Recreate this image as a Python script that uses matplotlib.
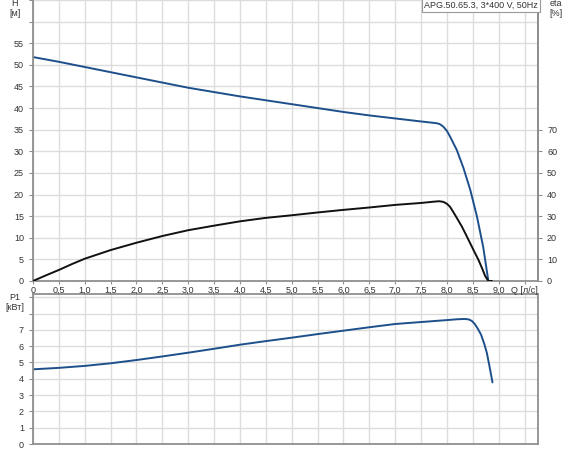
import numpy as np
import matplotlib.pyplot as plt
from matplotlib.ticker import FixedLocator

# Pump curve data
q_h = [0.0, 0.5, 1.0, 1.5, 2.0, 2.5, 3.0, 3.5, 4.0, 4.5, 5.0, 5.5, 6.0, 6.5, 7.0, 7.5,
       7.8, 7.86, 7.93, 8.0, 8.06, 8.19, 8.32, 8.45, 8.58, 8.70, 8.80]
h = [51.8, 50.7, 49.5, 48.3, 47.1, 45.9, 44.7, 43.7, 42.7, 41.8, 40.9, 40.0, 39.1, 38.3,
     37.6, 36.9, 36.5, 36.3, 35.7, 34.7, 33.4, 30.3, 26.1, 21.1, 14.9, 7.9, 0.0]

q_eta = [0.0, 0.25, 0.5, 0.75, 1.0, 1.5, 2.0, 2.5, 3.0, 3.5, 4.0, 4.5, 5.0, 5.5, 6.0, 6.5,
         7.0, 7.5, 7.75, 7.85, 7.93, 8.0, 8.06, 8.12, 8.2, 8.29, 8.37, 8.45, 8.53, 8.61,
         8.68, 8.74, 8.80, 8.87]
eta = [0.0, 2.6, 5.1, 7.8, 10.3, 14.3, 17.7, 20.8, 23.5, 25.6, 27.6, 29.2, 30.4, 31.7,
       32.9, 34.0, 35.2, 36.1, 36.7, 36.9, 36.6, 35.7, 34.3, 32.0, 28.8, 25.1, 21.3, 17.4,
       13.5, 9.7, 5.8, 2.2, 0.0, 0.0]

q_p = [0.0, 0.5, 1.0, 1.5, 2.0, 2.5, 3.0, 3.5, 4.0, 4.5, 5.0, 5.5, 6.0, 6.5, 7.0, 7.5,
       8.0, 8.2, 8.35, 8.42, 8.48, 8.54, 8.6, 8.66, 8.72, 8.77, 8.82, 8.88]
p1 = [4.58, 4.67, 4.79, 4.95, 5.15, 5.37, 5.6, 5.84, 6.09, 6.31, 6.52, 6.74, 6.95, 7.16,
      7.36, 7.48, 7.60, 7.65, 7.67, 7.64, 7.55, 7.35, 7.05, 6.7, 6.15, 5.6, 4.8, 3.78]

x_ticks = np.arange(0, 9.76, 0.5)
x_labels = ['0'] + [f'{v:.1f}'.replace('.', ',') for v in x_ticks[1:-1]] + ['Q [л/с]']
h_ticks = np.arange(0, 66, 5)
h_labels = [str(v) if v <= 55 else '' for v in h_ticks]
eta_ticks = np.arange(0, 71, 10)
p_ticks = np.arange(0, 10, 1)
p_labels = [str(v) if v <= 7 else '' for v in p_ticks]

blue = '#1d4f8b'
grid_c = '#dcdcdc'
spine_c = '#8f8f8f'
txt_c = '#333333'
fs = 6.5

plt.rcParams['font.family'] = ['Liberation Sans', 'DejaVu Sans']
fig = plt.figure(figsize=(5.7, 4.5), dpi=100)
axp = fig.add_axes([0.0579, 0.0133, 0.8860, 0.3334])
ax = fig.add_axes([0.0579, 0.3756, 0.8860, 0.6244])
ax2 = ax.twinx()

ax.plot(q_h, h, color=blue, lw=1.4, solid_capstyle='round', solid_joinstyle='round')
ax2.plot(q_eta, eta, color='#111111', lw=1.4, solid_capstyle='round', solid_joinstyle='round')
axp.plot(q_p, p1, color=blue, lw=1.4, solid_capstyle='round', solid_joinstyle='round')

for a in (ax, axp):
    a.set_xlim(0, 9.76)
    a.xaxis.set_major_locator(FixedLocator(x_ticks))
    a.grid(True, color=grid_c, lw=1.0)
    a.set_axisbelow(True)
    for s in a.spines.values():
        s.set_color(spine_c)
        s.set_linewidth(1.3)
    a.tick_params(colors=spine_c, labelcolor=txt_c, labelsize=fs, length=3, width=0.8)

ax.set_ylim(0, 65)
ax.yaxis.set_major_locator(FixedLocator(h_ticks))
ax.set_yticklabels(h_labels)
ax.set_xticklabels(x_labels)
ax.spines['top'].set_visible(False)
ax.tick_params(axis='x', length=2, pad=1.5)

ax2.set_ylim(0, 130)
ax2.yaxis.set_major_locator(FixedLocator(eta_ticks))
ax2.tick_params(colors=spine_c, labelcolor=txt_c, labelsize=fs, length=3, width=0.8)
for s in ax2.spines.values():
    s.set_visible(False)
ax2.spines['right'].set_visible(True)
ax2.spines['right'].set_color(spine_c)
ax2.spines['right'].set_linewidth(1.3)

axp.set_ylim(0, 9.2)
axp.yaxis.set_major_locator(FixedLocator(p_ticks))
axp.set_yticklabels(p_labels)
axp.tick_params(axis='x', labelbottom=False, length=0)

# axis captions
fig.text(15 / 570, 1 - 4 / 450, 'H', fontsize=fs, color=txt_c, ha='center', va='center')
fig.text(15 / 570, 1 - 14 / 450, '[м]', fontsize=fs, color=txt_c, ha='center', va='center')
fig.text(556 / 570, 1 - 4 / 450, 'eta', fontsize=fs, color=txt_c, ha='center', va='center')
fig.text(556 / 570, 1 - 14 / 450, '[%]', fontsize=fs, color=txt_c, ha='center', va='center')
fig.text(15 / 570, 1 - 297 / 450, 'P1', fontsize=fs, color=txt_c, ha='center', va='center')
fig.text(15 / 570, 1 - 307 / 450, '[кВт]', fontsize=fs, color=txt_c, ha='center', va='center')

fig.text(538 / 570, 1 - 5.5 / 450, 'APG.50.65.3, 3*400 V, 50Hz', fontsize=fs, color=txt_c,
         ha='right', va='center',
         bbox=dict(boxstyle='square,pad=0.25', fc='white', ec='#999999', lw=0.8))

fig.savefig('out.png', dpi=100)
